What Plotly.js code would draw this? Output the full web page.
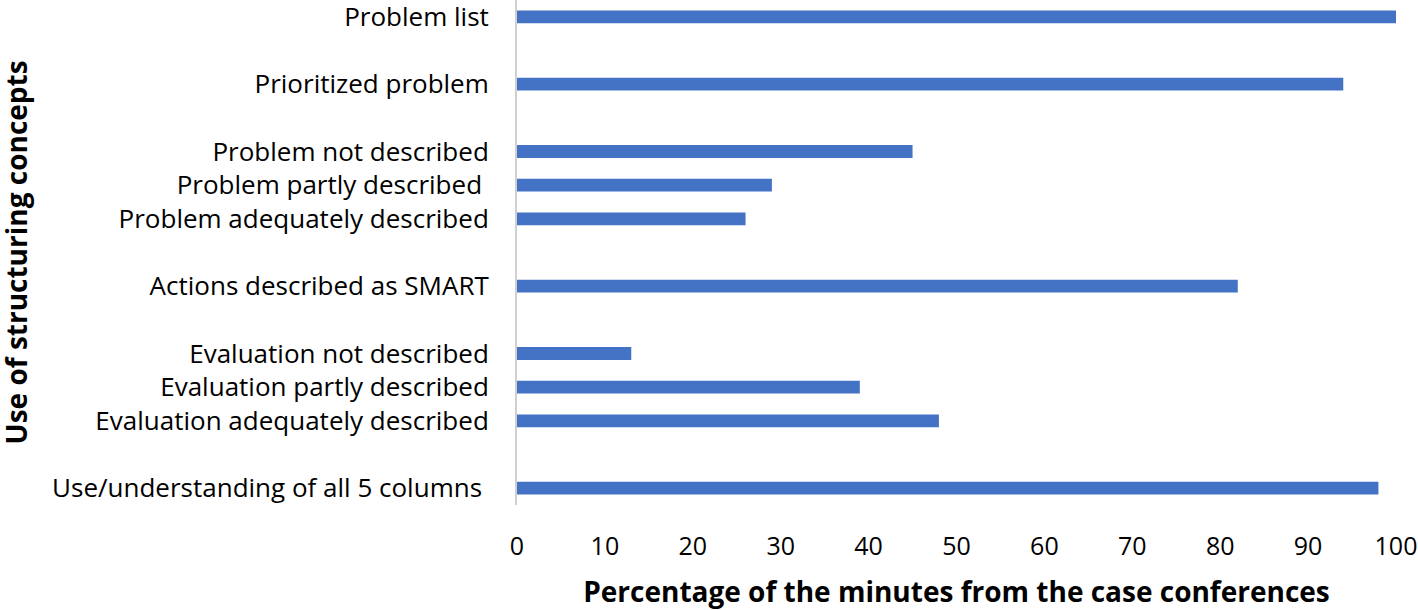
<!DOCTYPE html>
<html>
<head>
<meta charset="utf-8">
<script src="https://cdn.plot.ly/plotly-3.0.1.min.js"></script>
<style>html,body{margin:0;padding:0;background:#fff;}#chart{width:1418px;height:610px;}</style>
</head>
<body>
<div id="chart"></div>
<script>
// Categories top to bottom; gap entries are empty rows
var categories = [
  "Problem list",
  "gap 1",
  "Prioritized problem",
  "gap 2",
  "Problem not described",
  "Problem partly described\u00a0",
  "Problem adequately described",
  "gap 3",
  "Actions described as SMART",
  "gap 4",
  "Evaluation not described",
  "Evaluation partly described",
  "Evaluation adequately described",
  "gap 5",
  "Use/understanding of all 5 columns\u00a0"
];
var percentages = [100, null, 94, null, 45, 29, 26, null, 82, null, 13, 39, 48, null, 98];
var xTickValues = [0, 10, 20, 30, 40, 50, 60, 70, 80, 90, 100];
var yTickLabels = categories.filter(function (c) { return c.indexOf("gap ") !== 0; });
var xTitle = "Percentage of the minutes from the case conferences";
var yTitle = "Use of structuring concepts";

var font = "Open Sans, sans-serif";
var trace = {
  type: "bar",
  orientation: "h",
  y: categories,
  x: percentages,
  marker: {color: "#4472C4"},
  hoverinfo: "x+y"
};
var layout = {
  width: 1418, height: 610,
  margin: {l: 517, r: 22, t: 0, b: 105},
  paper_bgcolor: "#ffffff", plot_bgcolor: "#ffffff",
  bargap: 0.62,
  showlegend: false,
  font: {family: font, color: "#000000", size: 26},
  xaxis: {
    range: [0, 100],
    tickvals: xTickValues,
    showgrid: false, zeroline: false, showline: false,
    ticks: "outside", ticklen: 19, tickcolor: "rgba(0,0,0,0)",
    tickfont: {family: font, size: 25, color: "#000"},
    title: {text: "<b>" + xTitle + "</b>", font: {family: font, size: 28, color: "#000"}, standoff: 26},
    fixedrange: true
  },
  yaxis: {
    type: "category",
    categoryorder: "array",
    categoryarray: categories,
    tickvals: yTickLabels,
    ticktext: yTickLabels,
    autorange: "reversed",
    showgrid: false, zeroline: false,
    showline: true, linecolor: "#d0d0d0", linewidth: 2,
    ticks: "outside", ticklen: 21, tickcolor: "rgba(0,0,0,0)",
    tickfont: {family: font, size: 26, color: "#000"},
    fixedrange: true
  },
  annotations: [{
    text: "<b>" + yTitle + "</b>",
    textangle: -90,
    xref: "paper", yref: "paper",
    x: -0.570, y: 0.5,
    xanchor: "center", yanchor: "middle",
    showarrow: false,
    borderpad: 0,
    font: {family: font, size: 28, color: "#000"}
  }]
};
Plotly.newPlot("chart", [trace], layout, {displayModeBar: false, staticPlot: true});
</script>
</body>
</html>
